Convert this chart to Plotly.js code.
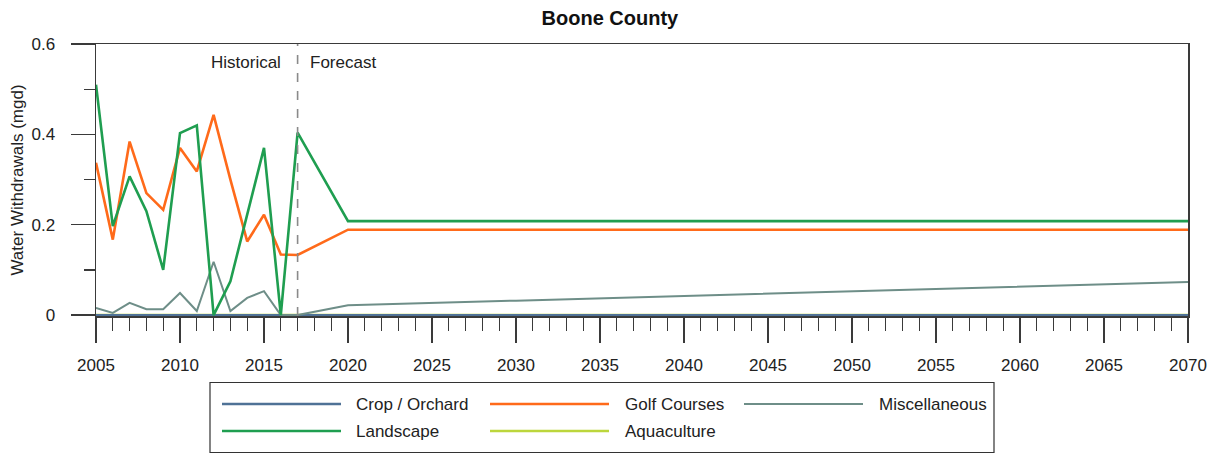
<!DOCTYPE html>
<html>
<head>
<meta charset="utf-8">
<script src="https://cdn.plot.ly/plotly-3.0.1.min.js"></script>
<style>
html, body { margin: 0; padding: 0; background: #fff; }
#chart { width: 1215px; height: 454px; }
</style>
</head>
<body>
<div id="chart"></div>
<script>
// ---- Data ----
const years = [2005, 2006, 2007, 2008, 2009, 2010, 2011, 2012, 2013, 2014, 2015, 2016, 2017, 2020, 2030, 2040, 2050, 2060, 2070];

const cropOrchard   = [0, 0, 0, 0, 0, 0, 0, 0, 0, 0, 0, 0, 0, 0, 0, 0, 0, 0, 0];
const golfCourses   = [0.337, 0.167, 0.384, 0.270, 0.233, 0.370, 0.318, 0.443, 0.300, 0.163, 0.222, 0.134, 0.133, 0.189, 0.189, 0.189, 0.189, 0.189, 0.189];
const miscellaneous = [0.016, 0.005, 0.027, 0.013, 0.013, 0.049, 0.009, 0.118, 0.009, 0.038, 0.053, 0.000, 0.000, 0.022, 0.032, 0.042, 0.052, 0.063, 0.073];
const landscape     = [0.510, 0.197, 0.307, 0.230, 0.100, 0.403, 0.420, 0.000, 0.075, 0.220, 0.370, 0.000, 0.404, 0.208, 0.208, 0.208, 0.208, 0.208, 0.208];
const aquaculture   = [0, 0, 0, 0, 0, 0, 0, 0, 0, 0, 0, 0, 0, 0, 0, 0, 0, 0, 0];

const seriesNames  = ["Crop / Orchard", "Golf Courses", "Miscellaneous", "Landscape", "Aquaculture"];
const seriesColors = ["#4f7296", "#ff6a1a", "#6e8e88", "#1f9e50", "#bcd63c"];
const seriesWidths = [2.4, 2.6, 2.0, 2.6, 2.6];
const seriesValues = [cropOrchard, golfCourses, miscellaneous, landscape, aquaculture];

const dividerYear = 2017;
const periodLabels = ["Historical", "Forecast"];
const yTickVals = [0, 0.2, 0.4, 0.6];
const yTickText = ["0", "0.2", "0.4", "0.6"];
const xTickVals = [2005, 2010, 2015, 2020, 2025, 2030, 2035, 2040, 2045, 2050, 2055, 2060, 2065, 2070];

// ---- Layout geometry (pixels) ----
const W = 1215, H = 454;
const M = { l: 96, r: 27, t: 44, b: 138 };
const PW = W - M.l - M.r, PH = H - M.t - M.b;
const px2x = p => (p - M.l) / PW;
const py2y = p => (M.t + PH - p) / PH;

const FONT = "Liberation Sans, Arial, sans-serif";
const AXC = "#3a3a3a";

// draw order: aquaculture, crop, misc, golf, landscape
const drawOrder = [4, 0, 2, 1, 3];
const traces = drawOrder.map(i => ({
  type: "scatter", mode: "lines",
  x: years, y: seriesValues[i], name: seriesNames[i],
  line: { color: seriesColors[i], width: seriesWidths[i] },
  showlegend: false, hoverinfo: "skip"
}));

// custom legend (row-major: 3 columns)
const legLineStart = [222, 490, 744];
const legTextStart = [354, 623, 877];
const legRowY = [404, 431];
const shapes = [
  { type: "line", xref: "x", yref: "paper", x0: dividerYear, x1: dividerYear, y0: 0, y1: 1,
    line: { color: "#8a8a8a", width: 1.6, dash: "dash" } },
  { type: "rect", xref: "paper", yref: "paper",
    x0: px2x(210), x1: px2x(994), y0: py2y(452.5), y1: py2y(382.5),
    line: { color: "#333", width: 1.2 }, fillcolor: "rgba(0,0,0,0)" }
];
const annotations = [
  { xref: "x", yref: "paper", x: dividerYear, y: py2y(62.5), text: periodLabels[0],
    xanchor: "right", yanchor: "middle", xshift: -15, showarrow: false,
    font: { family: FONT, size: 17, color: "#222" } },
  { xref: "x", yref: "paper", x: dividerYear, y: py2y(62.5), text: periodLabels[1],
    xanchor: "left", yanchor: "middle", xshift: 10, showarrow: false,
    font: { family: FONT, size: 17, color: "#222" } }
];
seriesNames.forEach((name, i) => {
  const col = i % 3, row = Math.floor(i / 3);
  const yy = py2y(legRowY[row]);
  shapes.push({ type: "line", xref: "paper", yref: "paper",
    x0: px2x(legLineStart[col]), x1: px2x(legLineStart[col] + 119), y0: yy, y1: yy,
    line: { color: seriesColors[i], width: seriesWidths[i] } });
  annotations.push({ xref: "paper", yref: "paper", x: px2x(legTextStart[col]), y: yy,
    text: name, xanchor: "left", yanchor: "middle", showarrow: false,
    font: { family: FONT, size: 17, color: "#222" } });
});

const layout = {
  width: W, height: H,
  margin: M,
  paper_bgcolor: "#fff", plot_bgcolor: "#fff",
  showlegend: false,
  title: { text: "<b>Boone County</b>", xref: "container", x: 0.502, yref: "container",
    y: 1 - 18 / H, xanchor: "center", yanchor: "middle",
    font: { family: FONT, size: 20, color: "#111" } },
  xaxis: {
    range: [2005, 2070], showgrid: false, zeroline: false,
    showline: true, mirror: true, linecolor: AXC, linewidth: 1.5,
    tickmode: "array", tickvals: xTickVals, ticktext: xTickVals.map(String),
    ticks: "outside", ticklen: 25, tickwidth: 1.5, tickcolor: AXC,
    ticklabelstandoff: 8,
    minor: { dtick: 1, tick0: 2005, ticks: "outside", ticklen: 13, tickwidth: 1.3, tickcolor: AXC, showgrid: false },
    tickfont: { family: FONT, size: 17, color: "#222" }
  },
  yaxis: {
    range: [-0.002, 0.6], showgrid: false, zeroline: false,
    showline: true, mirror: true, linecolor: AXC, linewidth: 1.5,
    tickmode: "array", tickvals: yTickVals, ticktext: yTickText,
    ticks: "outside", ticklen: 24, tickwidth: 1.5, tickcolor: AXC,
    ticklabelstandoff: 12,
    minor: { tickvals: [0.1, 0.3, 0.5], ticks: "outside", ticklen: 11, tickwidth: 1.3, tickcolor: AXC, showgrid: false },
    tickfont: { family: FONT, size: 17, color: "#222" },
    title: { text: "Water Withdrawals (mgd)", standoff: 3, font: { family: FONT, size: 17, color: "#222" } }
  },
  shapes: shapes,
  annotations: annotations
};

Plotly.newPlot("chart", traces, layout, { displayModeBar: false, staticPlot: true });
</script>
</body>
</html>
